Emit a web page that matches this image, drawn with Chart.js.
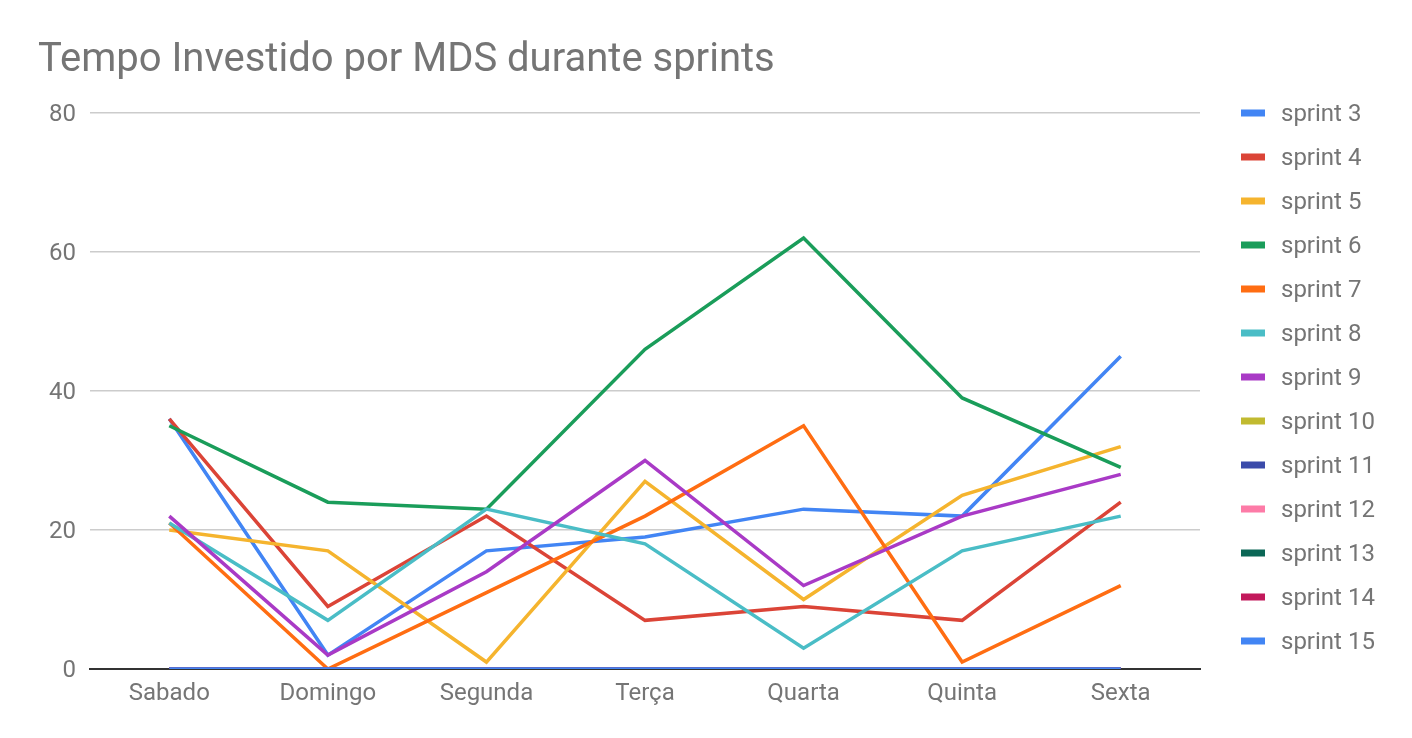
<!DOCTYPE html>
<html>
<head>
<meta charset="utf-8">
<script src="https://cdn.jsdelivr.net/npm/chart.js@4"></script>
<style>
  html, body { margin: 0; padding: 0; background: #fff; }
  #wrap { width: 1412px; height: 738px; }
</style>
</head>
<body>
<div id="wrap"><canvas id="c" width="1412" height="738"></canvas></div>
<script>
const titleText = 'Tempo Investido por MDS durante sprints';
const categories = ['Sabado', 'Domingo', 'Segunda', 'Terça', 'Quarta', 'Quinta', 'Sexta'];
const yTicks = [0, 20, 40, 60, 80];

const seriesNames = ['sprint 3', 'sprint 4', 'sprint 5', 'sprint 6', 'sprint 7', 'sprint 8', 'sprint 9',
  'sprint 10', 'sprint 11', 'sprint 12', 'sprint 13', 'sprint 14', 'sprint 15'];

const sprint3 = [36, 2, 17, 19, 23, 22, 45];
const sprint4 = [36, 9, 22, 7, 9, 7, 24];
const sprint5 = [20, 17, 1, 27, 10, 25, 32];
const sprint6 = [35, 24, 23, 46, 62, 39, 29];
const sprint7 = [21, 0, 11, 22, 35, 1, 12];
const sprint8 = [21, 7, 23, 18, 3, 17, 22];
const sprint9 = [22, 2, 14, 30, 12, 22, 28];
const sprint10 = [0, 0, 0, 0, 0, 0, 0];
const sprint11 = [0, 0, 0, 0, 0, 0, 0];
const sprint12 = [0, 0, 0, 0, 0, 0, 0];
const sprint13 = [0, 0, 0, 0, 0, 0, 0];
const sprint14 = [0, 0, 0, 0, 0, 0, 0];
const sprint15 = [0, 0, 0, 0, 0, 0, 0];

const seriesValues = [sprint3, sprint4, sprint5, sprint6, sprint7, sprint8, sprint9,
  sprint10, sprint11, sprint12, sprint13, sprint14, sprint15];

const seriesColors = ['#4285F4', '#DB4437', '#F5B42E', '#1A9D5A', '#FF6D12', '#4ABDC6', '#A93AC6',
  '#C1BA30', '#3B4BAA', '#FD7BA7', '#0B6756', '#C2185B', '#4285F4'];

const FONT = 'Roboto';
const TEXT_COLOR = '#757575';

const datasets = seriesNames.map((name, i) => ({
  label: name,
  data: seriesValues[i],
  borderColor: seriesColors[i],
  backgroundColor: seriesColors[i],
  borderWidth: 3.5,
  pointRadius: 0,
  pointHoverRadius: 0,
  tension: 0,
  fill: false,
  order: -i
}));

// Legend drawn on the right, vertical list
const sideLegend = {
  id: 'sideLegend',
  afterDraw(chart) {
    const ctx = chart.ctx;
    const area = chart.chartArea;
    ctx.save();
    ctx.font = '24px ' + FONT;
    ctx.textBaseline = 'middle';
    ctx.textAlign = 'left';
    const x0 = area.right + 41;
    const step = 44;
    chart.data.datasets.forEach((ds, i) => {
      const cy = area.top + i * step;
      ctx.fillStyle = ds.borderColor;
      ctx.fillRect(x0, cy - 3.5, 24, 7);
      ctx.fillStyle = TEXT_COLOR;
      ctx.fillText(ds.label, x0 + 40, cy + 2);
    });
    ctx.restore();
  }
};

new Chart(document.getElementById('c'), {
  type: 'line',
  data: { labels: categories, datasets },
  plugins: [sideLegend],
  options: {
    responsive: false,
    animation: false,
    devicePixelRatio: 1,
    layout: { padding: { left: 38, right: 212, top: 0, bottom: 0 } },
    plugins: {
      legend: { display: false },
      tooltip: { enabled: false },
      title: {
        display: true,
        text: titleText,
        align: 'start',
        color: TEXT_COLOR,
        font: { family: FONT, size: 40, weight: 'normal', lineHeight: 1.2 },
        padding: { top: 37, bottom: 28 }
      }
    },
    scales: {
      x: {
        offset: true,
        grid: { display: false, drawTicks: false },
        border: { display: true, color: '#333333', width: 2 },
        ticks: {
          color: TEXT_COLOR,
          font: { family: FONT, size: 24 },
          padding: 11,
          maxRotation: 0,
          autoSkip: false
        },
        afterFit(scale) { scale.height = 69; }
      },
      y: {
        min: 0,
        max: 80,
        afterBuildTicks(scale) { scale.ticks = yTicks.map(v => ({ value: v })); },
        grid: {
          color: (c) => (c.tick && c.tick.value === 0) ? 'rgba(0,0,0,0)' : '#cccccc',
          lineWidth: 1.5,
          drawTicks: false
        },
        border: { display: false },
        ticks: {
          color: TEXT_COLOR,
          font: { family: FONT, size: 24 },
          padding: 14,
          labelOffset: 2
        },
        afterFit(scale) { scale.width = 52; }
      }
    }
  }
});
</script>
</body>
</html>
